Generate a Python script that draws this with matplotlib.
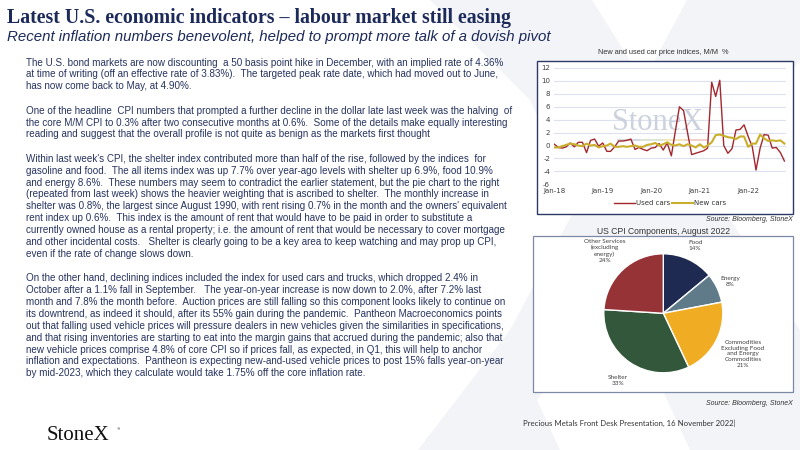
import matplotlib
matplotlib.use('Agg')
import matplotlib.pyplot as plt
import matplotlib.dates as mdates
from matplotlib.patches import Polygon, Rectangle
import numpy as np
import pandas as pd

plt.rcParams['axes.unicode_minus'] = False

# --- data ---
months = pd.date_range('2018-01-01', periods=58, freq='MS')

used_cars = [0.2, -0.3, -0.4, -0.2, 0.4, -0.2, 0.5, 0.5, -1.1, 0.8, 1.0, -0.1,
             0.4, -0.9, -0.9, -0.2, 0.7, 0.7, 0.8, 1.0, -0.6, -0.3, -0.6, -0.8,
             -0.4, -0.3, 0.3, -0.7, 0.4, -1.6, 2.2, 6.0, 5.4, 2.0, -1.4, -1.2,
             -1.0, -0.8, -0.4, 9.8, 7.6, 10.1, 0.0, -1.2, -0.5, 2.4, 2.5, 3.2,
             1.4, -0.2, -3.8, -0.4, 1.7, 1.6, -0.4, -0.3, -1.1, -2.4]

new_cars = [-0.3, -0.3, -0.1, 0.1, 0.3, 0.2, 0.0, -0.1, 0.3, 0.0, 0.1, -0.3,
            -0.1, 0.0, 0.3, -0.2, -0.2, -0.1, -0.2, -0.1, 0.0, -0.2, -0.2, 0.1,
            0.2, 0.4, 0.0, 0.2, 0.5, 0.1, 0.0, 0.2, -0.1, 0.2, 0.0, -0.3,
            0.2, -0.3, 0.0, 0.5, 1.6, 1.7, 1.5, 1.3, 1.2, 1.0, 1.4, 1.4,
            -0.2, 0.3, 0.3, 1.7, 1.1, 0.7, 0.8, 0.7, 0.8, 0.3]

cpi_labels = ['Food', 'Energy',
              'Commodities\nExcluding Food\nand Energy\nCommodities',
              'Shelter', 'Other Services\n(excluding\nenergy)']
cpi_shares = [14, 8, 21, 33, 24]

title = 'Latest U.S. economic indicators \u2013 labour market still easing'
subtitle = 'Recent inflation numbers benevolent, helped to prompt more talk of a dovish pivot'

paragraphs = [
    ["The U.S. bond markets are now discounting  a 50 basis point hike in December, with an implied rate of 4.36%",
     "at time of writing (off an effective rate of 3.83%).  The targeted peak rate date, which had moved out to June,",
     "has now come back to May, at 4.90%."],
    ["One of the headline  CPI numbers that prompted a further decline in the dollar late last week was the halving  of",
     "the core M/M CPI to 0.3% after two consecutive months at 0.6%.  Some of the details make equally interesting",
     "reading and suggest that the overall profile is not quite as benign as the markets first thought"],
    ["Within last week's CPI, the shelter index contributed more than half of the rise, followed by the indices  for",
     "gasoline and food.  The all items index was up 7.7% over year-ago levels with shelter up 6.9%, food 10.9%",
     "and energy 8.6%.  These numbers may seem to contradict the earlier statement, but the pie chart to the right",
     "(repeated from last week) shows the heavier weighting that is ascribed to shelter.  The monthly increase in",
     "shelter was 0.8%, the largest since August 1990, with rent rising 0.7% in the month and the owners' equivalent",
     "rent index up 0.6%.  This index is the amount of rent that would have to be paid in order to substitute a",
     "currently owned house as a rental property; i.e. the amount of rent that would be necessary to cover mortgage",
     "and other incidental costs.   Shelter is clearly going to be a key area to keep watching and may prop up CPI,",
     "even if the rate of change slows down."],
    ["On the other hand, declining indices included the index for used cars and trucks, which dropped 2.4% in",
     "October after a 1.1% fall in September.   The year-on-year increase is now down to 2.0%, after 7.2% last",
     "month and 7.8% the month before.  Auction prices are still falling so this component looks likely to continue on",
     "its downtrend, as indeed it should, after its 55% gain during the pandemic.  Pantheon Macroeconomics points",
     "out that falling used vehicle prices will pressure dealers in new vehicles given the similarities in specifications,",
     "and that rising inventories are starting to eat into the margin gains that accrued during the pandemic; also that",
     "new vehicle prices comprise 4.8% of core CPI so if prices fall, as expected, in Q1, this will help to anchor",
     "inflation and expectations.  Pantheon is expecting new-and-used vehicle prices to post 15% falls year-on-year",
     "by mid-2023, which they calculate would take 1.75% off the core inflation rate."],
]

# --- styling ---
W, H = 800, 450
NAVY = '#1c2a5a'
BODY = '#26335f'
WATER = '#f3f4f8'
pie_colors = ['#1e2a52', '#5f7b8a', '#f0ad24', '#33573a', '#963337']
label_dist = [1.26, 1.25, 1.5, 1.36, 1.44]


def fx(x):
    return x / W


def fy(y):
    return 1 - y / H


def px_rect(x0, y0, x1, y1):
    # pixel box (top-left origin) -> figure rect
    return [fx(x0), fy(y1), (x1 - x0) / W, (y1 - y0) / H]


fig = plt.figure(figsize=(8, 4.5), dpi=100)
fig.patch.set_facecolor('white')

# faint logo watermark behind everything
for pts in [[(430, 0), (592, 0), (800, 330), (800, 450), (690, 450), (530, 100)],
            [(687, 0), (800, 0), (800, 60), (537, 400), (560, 450), (418, 450), (510, 330)]]:
    fig.add_artist(Polygon([(fx(a), fy(b)) for a, b in pts], closed=True,
                           transform=fig.transFigure, facecolor=WATER,
                           edgecolor='none', zorder=-5))

# title block
fig.text(fx(7), fy(17.5), title, family='Liberation Serif', weight='bold',
         size=14.3, color=NAVY, va='center', ha='left')
fig.text(fx(7), fy(37), subtitle, family='Liberation Sans', style='italic',
         size=10.8, color=NAVY, va='center', ha='left')

# body text
y = 62.5
line_h, para_gap = 11.9, 24.3
for p, lines in enumerate(paragraphs):
    for i, line in enumerate(lines):
        fig.text(fx(26), fy(y), line, family='Liberation Sans', size=7.1,
                 color=BODY, va='center', ha='left')
        if i < len(lines) - 1:
            y += line_h
    y += para_gap

# ---------- line chart ----------
fig.add_artist(Rectangle((fx(536.7), fy(214)), (793 - 536.7) / W, (214 - 61) / H,
                         transform=fig.transFigure, facecolor='white',
                         edgecolor='#2d3a66', lw=1.0, zorder=-1))
fig.text(fx(663), fy(52.5), 'New and used car price indices, M/M  %',
         family='Liberation Sans', size=5.3, color='#333333', ha='center', va='center')

ax = fig.add_axes(px_rect(554.3, 68, 786, 184.3))
ax.set_facecolor('none')
ax.plot(months, used_cars, color='#a3282d', lw=1.0, label='Used cars', zorder=3)
ax.plot(months, new_cars, color='#c9ae2c', lw=1.5, label='New cars', zorder=3)
ax.set_ylim(-6, 12)
ax.set_yticks(np.arange(-6, 13, 2))
ax.set_xlim(months[0], months[-1] + pd.Timedelta(days=12))
ax.xaxis.set_major_locator(mdates.YearLocator())
ax.xaxis.set_major_formatter(mdates.DateFormatter('%b-%y'))
ax.grid(axis='y', color='#dde0ee', lw=0.8)
ax.grid(axis='x', visible=False)
ax.set_axisbelow(True)
for s in ax.spines.values():
    s.set_visible(False)
ax.tick_params(length=0, labelsize=5, colors='#404040', pad=3)
ax.tick_params(axis='x', pad=3)

# StoneX watermark inside the chart
ax.text(0.445, 0.535, 'StoneX', transform=ax.transAxes, family='Liberation Serif',
        size=22, color='#ccd2dd', ha='center', va='center', zorder=1)
for k, c in enumerate(['#d5d9e0', '#dce6d2', '#f2e6bd', '#f2d0cc']):
    ax.add_patch(Rectangle((0.272 + k * 0.098, 0.37), 0.098, 0.022,
                           transform=ax.transAxes, facecolor=c, edgecolor='none', zorder=1))

leg = ax.legend(loc='center', bbox_to_anchor=(0.5, -0.165), ncol=2, frameon=False,
                fontsize=5, handlelength=3.0, handletextpad=0.2, columnspacing=0.3)
for t in leg.get_texts():
    t.set_color('#333333')

fig.text(fx(793), fy(219.5), 'Source: Bloomberg, StoneX', family='Liberation Sans',
         style='italic', size=5, color='#333333', ha='right', va='center')

# ---------- pie chart ----------
fig.add_artist(Rectangle((fx(533), fy(392.3)), (793 - 533) / W, (392.3 - 236) / H,
                         transform=fig.transFigure, facecolor='white',
                         edgecolor='#7b89a6', lw=0.9, zorder=-1))
fig.text(fx(663.3), fy(231.5), 'US CPI Components, August 2022',
         family='Liberation Sans', size=6.2, color='#333333', ha='center', va='center')

R = 59.5
cx, cy = 663.3, 313.3
axp = fig.add_axes(px_rect(cx - R, cy - R, cx + R, cy + R))
axp.pie(cpi_shares, colors=pie_colors, startangle=90, counterclock=False, radius=1,
        wedgeprops=dict(edgecolor='white', linewidth=1.0))
axp.set_xlim(-1, 1)
axp.set_ylim(-1, 1)
axp.set_aspect('equal')
axp.axis('off')

cum = np.cumsum(cpi_shares) - np.array(cpi_shares) / 2
for lab, share, mid, d in zip(cpi_labels, cpi_shares, cum, label_dist):
    ang = np.deg2rad(90 - 360 * mid / sum(cpi_shares))
    axp.text(d * np.cos(ang), d * np.sin(ang), f'{lab}\n{share}%', family='Lato',
             size=4.6, color='#404040', ha='center', va='center', linespacing=1.2)

fig.text(fx(793), fy(403.5), 'Source: Bloomberg, StoneX', family='Liberation Sans',
         style='italic', size=5, color='#333333', ha='right', va='center')

# ---------- footer ----------
fig.text(fx(47), fy(436), 'StoneX', family='Liberation Serif', size=15,
         color='#111111', ha='left', va='center')
fig.text(fx(117), fy(429), '\u00ae', family='DejaVu Sans', size=2.5,
         color='#111111', ha='left', va='center')
fig.text(fx(523), fy(423.3), 'Precious Metals Front Desk Presentation, 16 November 2022|',
         family='Lato', size=5.6, color='#333333', ha='left', va='center')

fig.savefig('out.png', dpi=100, facecolor='white')
